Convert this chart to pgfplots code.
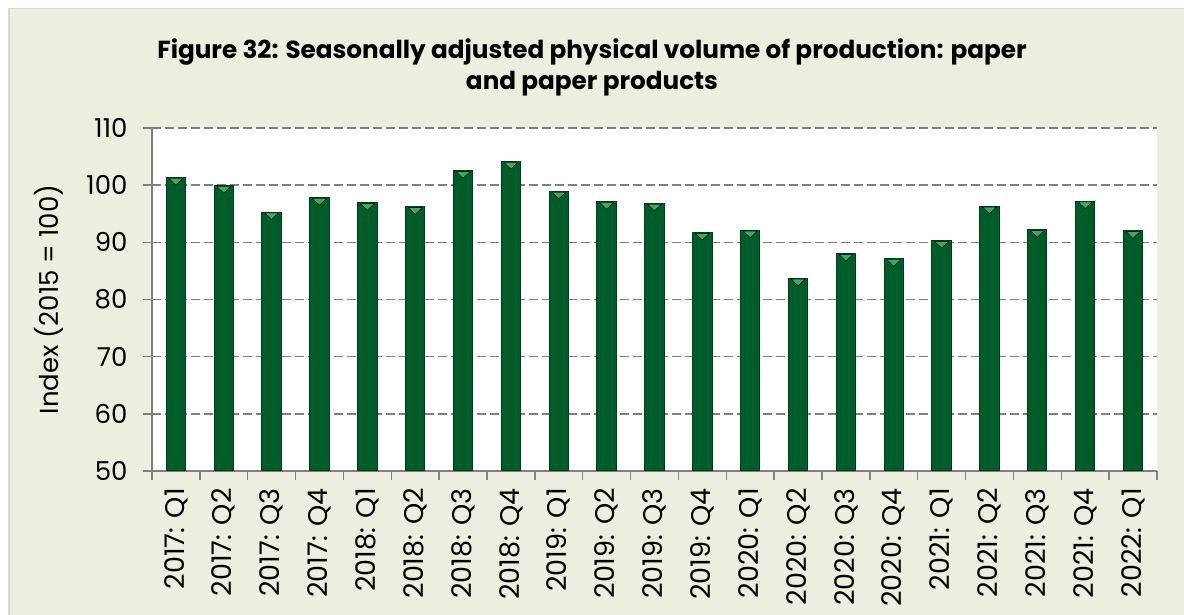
\documentclass[border=0pt]{standalone}
\usepackage{pgfplots}
\pgfplotsset{compat=1.18}
\usepackage{fontspec}
\setmainfont{Poppins}
\definecolor{bg}{RGB}{236,238,222}
\definecolor{gridc}{RGB}{128,128,128}
\definecolor{barmid}{RGB}{0,92,40}
\definecolor{barline}{RGB}{0,60,26}
\definecolor{tri}{RGB}{70,165,100}
\begin{document}
\begin{tikzpicture}
\useasboundingbox (0pt,0pt) rectangle (1184pt,615pt);
\fill[white] (0pt,0pt) rectangle (1184pt,615pt);
\fill[bg] (8pt,0pt) rectangle (1184pt,607pt);
\draw[black!15, line width=1.5pt] (8.75pt,0pt) -- (8.75pt,606.25pt) -- (1184pt,606.25pt);
\node[font=\bfseries\fontsize{24.7}{31}\selectfont, align=center, anchor=north] at (592pt,580pt) {Figure 32: Seasonally adjusted physical volume of production: paper\\and paper products};
\begin{axis}[
  at={(152pt,144pt)}, anchor=south west,
  scale only axis, width=1005pt, height=343pt,
  xmin=-0.5, xmax=20.5, ymin=50, ymax=110,
  ytick={50,60,...,110},
  axis background/.style={fill=white},
  axis x line*=bottom, axis y line*=left,
  axis line style={gridc, line width=1.5pt},
  ymajorgrids,
  grid style={gridc, line width=1.5pt, dash pattern=on 9pt off 4pt},
  tick align=outside,
  major tick length=9pt,
  minor tick length=9pt,
  tick style={gridc, line width=1.5pt},
  xtick={0,...,20},
  major x tick style={draw=none},
  minor xtick={-0.5,0.5,...,20.5},
  xticklabels={2017: Q1,2017: Q2,2017: Q3,2017: Q4,2018: Q1,2018: Q2,2018: Q3,2018: Q4,2019: Q1,2019: Q2,2019: Q3,2019: Q4,2020: Q1,2020: Q2,2020: Q3,2020: Q4,2021: Q1,2021: Q2,2021: Q3,2021: Q4,2022: Q1},
  xticklabel style={rotate=90, anchor=east, inner sep=8pt, font=\fontsize{27}{30}\selectfont},
  yticklabel style={xshift=-12pt},
  /pgf/number format/assume math mode=true,
  tick label style={font=\fontsize{26}{30}\selectfont, black},
  ylabel={Index (2015 = 100)},
  ylabel style={font=\fontsize{26}{30}\selectfont},
  ylabel shift=16pt,
]
\addplot[ybar, bar width=19.3pt, draw=barline, line width=1pt, fill=barmid]
  coordinates {(0,101.3) (1,99.9) (2,95.3) (3,97.8) (4,96.9) (5,96.2) (6,102.5) (7,104.1) (8,98.9) (9,97.1) (10,96.8) (11,91.7) (12,92.1) (13,83.7) (14,88.0) (15,87.1) (16,90.3) (17,96.3) (18,92.2) (19,97.2) (20,92.0)};
\addplot[only marks, mark=triangle*, mark size=8pt, mark options={yshift=-3pt, rotate=180, yscale=0.55, fill=tri, draw=none}]
  coordinates {(0,101.3) (1,99.9) (2,95.3) (3,97.8) (4,96.9) (5,96.2) (6,102.5) (7,104.1) (8,98.9) (9,97.1) (10,96.8) (11,91.7) (12,92.1) (13,83.7) (14,88.0) (15,87.1) (16,90.3) (17,96.3) (18,92.2) (19,97.2) (20,92.0)};
\end{axis}
\end{tikzpicture}
\end{document}
